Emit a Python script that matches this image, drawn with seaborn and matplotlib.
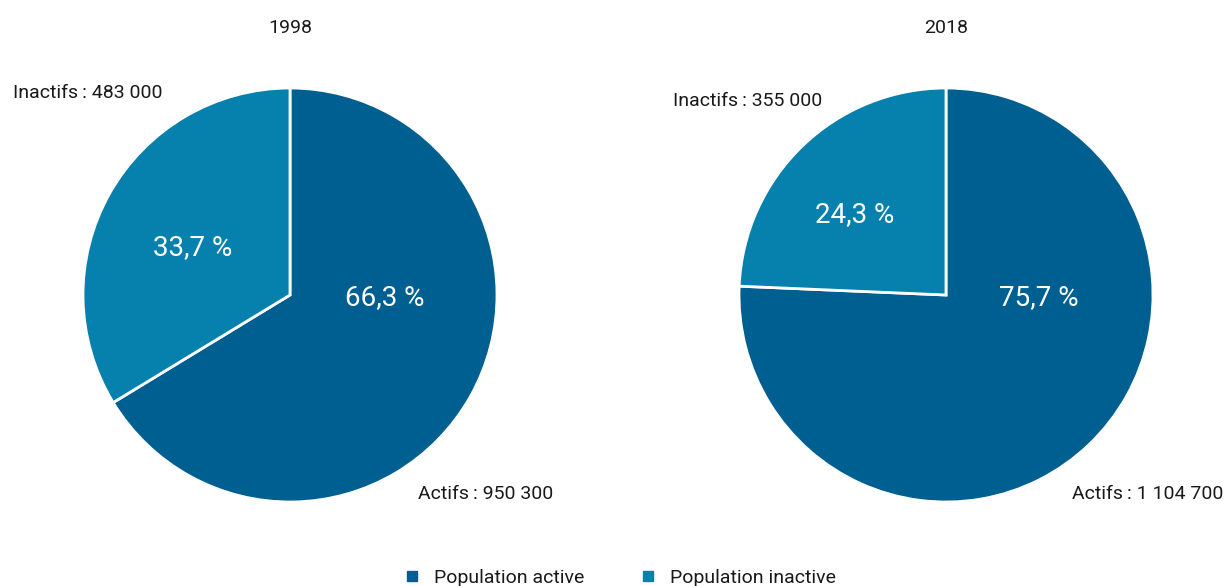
import matplotlib
matplotlib.use('Agg')
import matplotlib.pyplot as plt
import seaborn as sns
from matplotlib.lines import Line2D

# data
years = ['1998', '2018']
actifs = [950300, 1104700]
inactifs = [483000, 355000]
series_names = ['Population active', 'Population inactive']
colors = ['#005F91', '#0681AE']

sns.set_theme(style='white')
plt.rcParams['font.family'] = ['Liberation Sans Narrow', 'Roboto', 'DejaVu Sans']


def fmt_num(v):
    return f'{v:,}'.replace(',', ' ')


def fmt_pct(p):
    return f'{p:.1f}'.replace('.', ',') + ' %'


fig = plt.figure(figsize=(12.26, 5.86), dpi=100)
W, H = 1226, 586
R = 207  # pie radius in px
centers = [290, 946]
cy = 295

# label placement (in pie-radius units)
pct_pos = [((0.46, -0.01), (-0.47, 0.23)), ((0.45, -0.01), (-0.44, 0.39))]
inact_pos = [(-1.34, 0.976), (-1.32, 0.937)]
act_pos = [(1.27, -0.96), (1.34, -0.96)]

for i, year in enumerate(years):
    xl, yl = 1.4, 1.3
    ax = fig.add_axes([(centers[i] - xl * R) / W, (H - cy - yl * R) / H,
                       2 * xl * R / W, 2 * yl * R / H])
    vals = [actifs[i], inactifs[i]]
    total = sum(vals)
    ax.pie(vals, colors=colors, startangle=90, counterclock=False,
           wedgeprops=dict(edgecolor='white', linewidth=2))
    ax.set_xlim(-xl, xl)
    ax.set_ylim(-yl, yl)
    ax.axis('off')
    for j, v in enumerate(vals):
        x, y = pct_pos[i][j]
        ax.text(x, y, fmt_pct(100 * v / total), color='white', fontsize=20,
                ha='center', va='center')
    x, y = inact_pos[i]
    ax.text(x, y, 'Inactifs\u2009: ' + fmt_num(inactifs[i]), fontsize=14,
            ha='left', va='center', color='#1a1a1a')
    x, y = act_pos[i]
    ax.text(x, y, 'Actifs\u2009: ' + fmt_num(actifs[i]), fontsize=14,
            ha='right', va='center', color='#1a1a1a')
    ax.text(0, (cy - 28) / R, year, fontsize=14, ha='center', va='center',
            color='#1a1a1a')

handles = [Line2D([0], [0], marker='s', linestyle='none', markersize=7.5,
                  markerfacecolor=c, markeredgecolor=c) for c in colors]
fig.legend(handles, series_names, loc='lower center', ncol=2, frameon=False,
           bbox_to_anchor=(0.505, -0.032), fontsize=14, columnspacing=2.8,
           handlelength=1, handletextpad=0.6, labelcolor='#1a1a1a')

fig.savefig('out.png', dpi=100)
